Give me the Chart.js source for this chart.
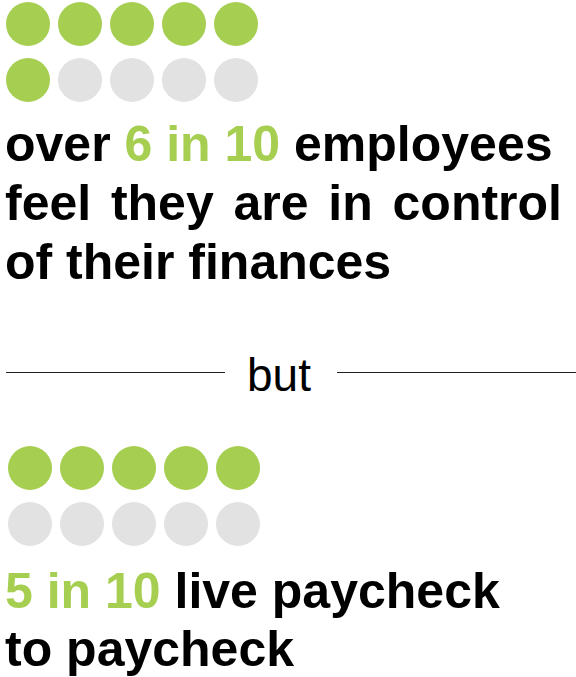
<!DOCTYPE html>
<html>
<head>
<meta charset="utf-8">
<title>Employee finances</title>
<script src="https://cdn.jsdelivr.net/npm/chart.js@4.4.1/dist/chart.umd.min.js"></script>
<style>
  html, body { margin: 0; padding: 0; background: #fff; }
  body { width: 576px; height: 677px; position: relative; overflow: hidden;
         font-family: "Liberation Sans", Arial, Helvetica, sans-serif; }
  .dots { position: absolute; width: 260px; height: 112px; }
  .line { position: absolute; left: 5px; white-space: nowrap; font-weight: bold;
          font-size: 50px; color: #000; }
  .green { color: #a6ce50; }
  .justify { width: 557px; text-align: justify; text-align-last: justify; white-space: normal; }
  .rule { position: absolute; height: 0; border-top: 1.5px solid #222; top: 372px; }
  .but { position: absolute; left: 247px; top: 350px; font-size: 46px; line-height: 50px; color: #000; }
</style>
</head>
<body>

<div class="dots" style="left:2px; top:-4px;"><canvas id="dotsControl"></canvas></div>
<div class="line" style="top:115px; line-height:59px;">over <span class="green">6 in 10</span> employees</div>
<div class="line justify" style="top:174px; line-height:59px;">feel they are in control</div>
<div class="line" style="top:233px; line-height:59px;">of their finances</div>

<div class="rule" style="left:6px; width:219px;"></div>
<div class="but">but</div>
<div class="rule" style="left:337px; width:239px;"></div>

<div class="dots" style="left:3.5px; top:440px;"><canvas id="dotsPaycheck"></canvas></div>
<div class="line" style="top:562px; line-height:58px;"><span class="green">5 in 10</span> live paycheck</div>
<div class="line" style="top:620px; line-height:58px;">to paycheck</div>

<script>
// how many out of ten, for each statement
const outOf = 10;
const perRow = 5;
const inControl = 6;
const paycheckToPaycheck = 5;

const green = '#a6ce50';
const grey = '#e1e2e1';

// one point per person: column, row, and whether it counts
function dotPoints(count) {
    var pts = [];
    for (var i = 0; i < outOf; i++) {
        pts.push({ x: i % perRow, y: Math.floor(i / perRow), on: i < count });
    }
    return pts;
}

function dotChart(id, count) {
    var pts = dotPoints(count);
    return new Chart(document.getElementById(id), {
        type: 'scatter',
        data: {
            datasets: [{
                data: pts,
                pointBackgroundColor: pts.map(function (p) { return p.on ? green : grey; }),
                pointBorderWidth: 0,
                pointRadius: 22,
                pointHoverRadius: 22
            }]
        },
        options: {
            responsive: true,
            maintainAspectRatio: false,
            animation: false,
            events: [],
            clip: false,
            layout: { padding: 0, autoPadding: false },
            plugins: {
                legend: { display: false },
                tooltip: { enabled: false }
            },
            scales: {
                x: { type: 'linear', min: -0.5, max: perRow - 0.5, display: false },
                y: { type: 'linear', min: -0.5, max: 1.5, reverse: true, display: false }
            }
        }
    });
}

dotChart('dotsControl', inControl);
dotChart('dotsPaycheck', paycheckToPaycheck);
</script>
</body>
</html>
